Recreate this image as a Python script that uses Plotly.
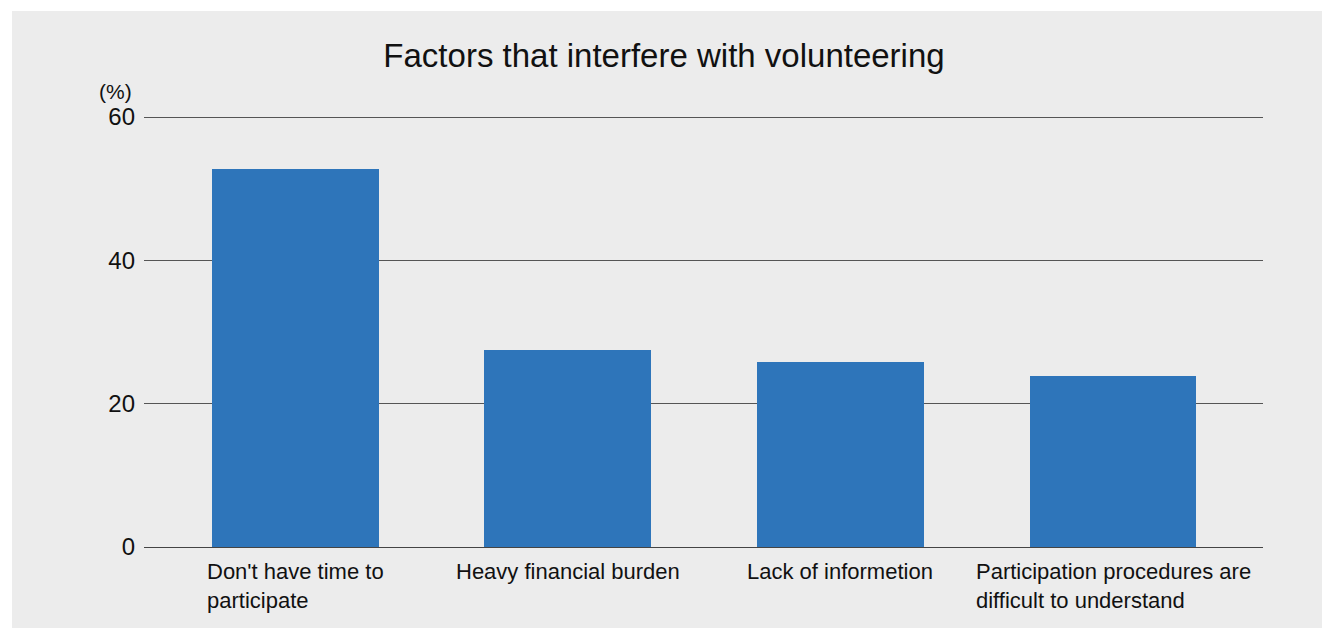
import plotly.graph_objects as go

categories = [
    "Don't have time to<br>participate",
    "Heavy financial burden",
    "Lack of informetion",
    "Participation procedures are<br>difficult to understand",
]
values = [52.8, 27.5, 25.8, 23.9]
y_ticks = [0, 20, 40, 60]
title_text = "Factors that interfere with volunteering"
unit_text = "(%)"

# page has an 8px body margin, so the figure is drawn 8px smaller
W, H = 1322, 620
L, R, T, B = 136, 67, 107, 81
PW, PH = W - L - R, H - T - B
Y_TOP = PH * 60 / 430  # keep 60 units = 430 px, leave room for the 60 gridline
BG = "#ececec"
FONT = "Liberation Sans, Arial, Helvetica, sans-serif"

xs = list(range(len(categories)))

fig = go.Figure()
fig.add_trace(go.Bar(
    x=xs, y=values, width=0.612,
    marker=dict(color="#2e75ba", line=dict(width=0)),
    hoverinfo="skip", showlegend=False,
))

# category labels (left-aligned lines, block centred under each bar)
for xi, lab in zip(xs, categories):
    fig.add_annotation(
        x=xi, y=0, xref="x", yref="y", text=lab, showarrow=False,
        xanchor="center", yanchor="top", align="left", yshift=-10,
        font=dict(family=FONT, size=22, color="#111111"),
    )

fig.add_annotation(
    x=0, y=60, xref="paper", yref="y", text=unit_text, showarrow=False,
    xanchor="right", yanchor="middle", xshift=-10, yshift=26,
    font=dict(family=FONT, size=21, color="#111111"),
)

# grey panel
fig.add_shape(
    type="rect", xref="paper", yref="paper", layer="below",
    x0=(4 - L) / PW, x1=1 + (R + 20) / PW,
    y0=-(B + 20) / PH, y1=1 + (T - 3) / PH,
    fillcolor=BG, line=dict(width=0),
)

fig.update_layout(
    width=W, height=H,
    margin=dict(l=L, r=R, t=T, b=B, pad=0),
    paper_bgcolor="white", plot_bgcolor=BG,
    title=dict(text=title_text, x=656 / W, xref="container", xanchor="center",
               y=1 - 47 / H, yref="container", yanchor="middle",
               font=dict(family=FONT, size=33, color="#111111")),
    font=dict(family=FONT, color="#111111"),
    bargap=0,
)
fig.update_xaxes(
    range=[-0.555, len(categories) - 0.45], showticklabels=False,
    showgrid=False, zeroline=False, showline=False, ticks="",
    fixedrange=True,
)
fig.update_yaxes(
    range=[0, Y_TOP], tickvals=y_ticks, ticktext=[str(v) for v in y_ticks],
    showgrid=True, gridcolor="#555555", gridwidth=1,
    zeroline=True, zerolinecolor="#444444", zerolinewidth=1.3,
    showline=False, ticks="", ticklabelstandoff=8,
    tickfont=dict(family=FONT, size=24, color="#111111"),
    fixedrange=True,
)

fig.write_html("out.html", config={"displayModeBar": False})
